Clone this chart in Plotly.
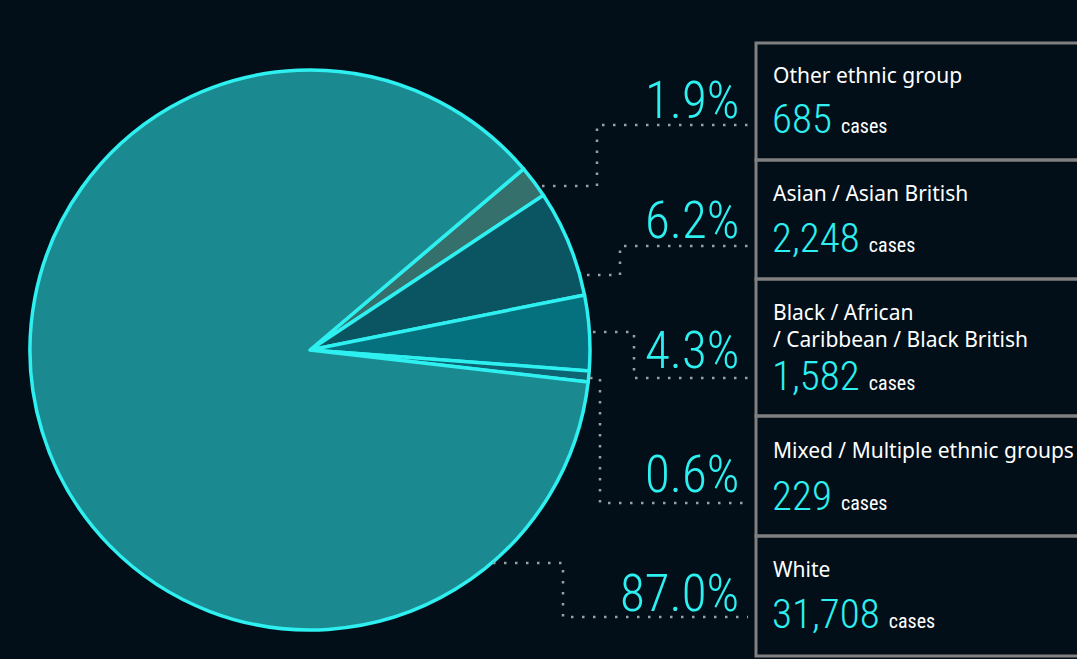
import plotly.graph_objects as go

# ---- data ----
groups = ["Other ethnic group", "Asian / Asian British",
          "Black / African<br>/ Caribbean / Black British",
          "Mixed / Multiple ethnic groups", "White"]
cases = [685, 2248, 1582, 229, 31708]
slice_colors = ["#36706d", "#0b5462", "#05707e", "#0d6472", "#1b8a90"]

total = sum(cases)
pcts = [f"{c / total * 100:.1f}%" for c in cases]

# ---- layout constants (pixel space, y downwards) ----
W, H = 1077, 659
BG = "#020f19"
CYAN = "#2ef0f0"
GREY = "#808080"
NARROW = "Liberation Sans Narrow, Arial Narrow, Roboto Condensed, sans-serif"
SANS = "Noto Sans, Open Sans, sans-serif"

pie_cx, pie_cy, pie_r = 310, 350, 280
box_edges = [43, 160, 279, 416, 536, 656]
label_y = [75, 193, 325, 450, 569]
value_y = [119, 238, 376, 496, 614]
pct_y = [100, 220, 350, 474, 593]
leaders = [
    "M542,186 H597 V125 H748",
    "M587,275 H620 V246 H748",
    "M593,332 H634 V378 H748",
    "M590,378 H600 V503 H748",
    "M493,563 H563 V617 H748",
]

fig = go.Figure()
fig.add_trace(go.Pie(
    labels=[g.replace("<br>", " ") for g in groups],
    values=cases,
    sort=False,
    direction="clockwise",
    rotation=49.7,
    textinfo="none",
    marker=dict(colors=slice_colors, line=dict(color=CYAN, width=3.5)),
    domain=dict(x=[(pie_cx - pie_r) / W, (pie_cx + pie_r) / W],
                y=[1 - (pie_cy + pie_r) / H, 1 - (pie_cy - pie_r) / H]),
    showlegend=False,
))

shapes = []
# boxes
for i in range(len(groups)):
    shapes.append(dict(type="rect", xref="x", yref="y",
                       x0=756, x1=1100, y0=box_edges[i], y1=box_edges[i + 1],
                       line=dict(color=GREY, width=3), fillcolor="rgba(0,0,0,0)"))
# leader lines
for p in leaders:
    shapes.append(dict(type="path", xref="x", yref="y", path=p,
                       line=dict(color="#9aa0a5", width=2.5, dash="2.5px,8.5px")))

annotations = []
for i, g in enumerate(groups):
    annotations.append(dict(x=771, y=label_y[i], xref="x", yref="y",
                            text=g, showarrow=False, xanchor="left", yanchor="middle",
                            align="left", font=dict(family=SANS, size=21, color="white")))
    annotations.append(dict(x=770, y=value_y[i], xref="x", yref="y",
                            text=f"{cases[i]:,}<span style='font-size:20px;color:#ffffff;font-weight:400'>  cases</span>",
                            showarrow=False, xanchor="left", yanchor="middle",
                            font=dict(family=NARROW, size=41, color=CYAN, weight=300)))
    annotations.append(dict(x=741, y=pct_y[i], xref="x", yref="y",
                            text=pcts[i], showarrow=False, xanchor="right", yanchor="middle",
                            font=dict(family=NARROW, size=51, color=CYAN, weight=300)))

fig.update_layout(
    width=W, height=H,
    margin=dict(l=0, r=0, t=0, b=0),
    paper_bgcolor=BG, plot_bgcolor=BG,
    xaxis=dict(range=[0, W], visible=False, fixedrange=True),
    yaxis=dict(range=[H, 0], visible=False, fixedrange=True),
    shapes=shapes,
    annotations=annotations,
)

fig.write_html("out.html", config={"displayModeBar": False},
               post_script="document.body.style.margin='0px';document.body.style.background='#020f19';")
